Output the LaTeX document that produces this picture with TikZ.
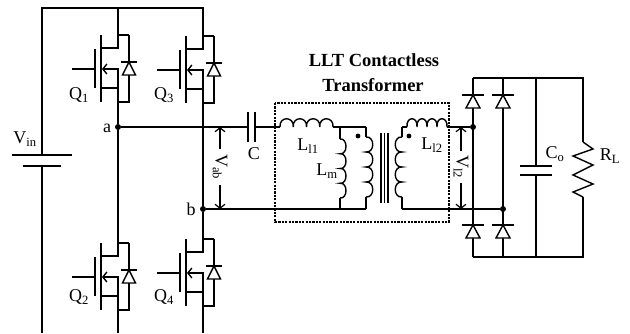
\documentclass[tikz,border=0pt]{standalone}
\usepackage{fontspec}
\setmainfont{Liberation Serif}
\usetikzlibrary{arrows.meta}
\tikzset{
  x=1pt,y=-1pt,
  wire/.style={line width=1.4pt,line join=miter},
  thick wire/.style={line width=1.7pt},
  junction/.style={circle,fill=black,inner sep=0pt,minimum size=6pt},
  lbl/.style={inner sep=0pt,font=\fontsize{18}{20}\selectfont},
  title/.style={inner sep=0pt,font=\fontsize{18.5}{20}\selectfont\bfseries},
  dimarrow/.style={line width=1.2pt,-{Straight Barb[length=4pt,width=10pt]}},
  pics/diode/.style={code={
    \draw[wire] (-11,0) -- (11,0);
    \draw[wire,fill=white] (0,0) -- (-7,13) -- (7,13) -- cycle;
  }},
  pics/smalldiode/.style={code={
    \draw[wire] (-8,0) -- (8,0);
    \draw[wire,fill=white] (0,0) -- (-6.5,13) -- (6.5,13) -- cycle;
  }},
  pics/mos/.style={code={
    \coordinate (-d) at (0,0);
    \coordinate (-s) at (0,67);
    \draw[wire] (11,0) -- (0,0) -- (0,13) -- (-17,13);
    \draw[wire] (-17,0) -- (-17,67);
    \draw[thick wire] (-23,14) -- (-23,53);
    \draw[wire] (-46,34) -- (-23,34);
    \draw[wire,-{Straight Barb[length=4pt,width=10pt]}] (0,53) -- (0,34) -- (-16,34);
    \draw[wire] (-17,53) -- (0,53) -- (0,67) -- (11,67) -- (11,0);
    \pic at (11,27) {smalldiode};
  }},
}
\newcommand{\hcoil}[3]{% x0 y x1, four bumps up
  \draw[wire] (#1,#2)
  \foreach \i in {0,1,2,3}{ .. controls ({#1+(#3-#1)*\i/4-1},#2-11) and ({#1+(#3-#1)*(\i+1)/4+1},#2-11) .. ({#1+(#3-#1)*(\i+1)/4},#2) };
}
\newcommand{\vcoil}[4]{% x y0 y1 bulge, four bumps
  \draw[wire] (#1,#2)
  \foreach \i in {0,1,2,3}{ .. controls ({#1+#4},{#2+(#3-#2)*\i/4-1}) and ({#1+#4},{#2+(#3-#2)*(\i+1)/4+1}) .. (#1,{#2+(#3-#2)*(\i+1)/4}) };
}
\begin{document}
\begin{tikzpicture}
\useasboundingbox (0,0) rectangle (630,333);
% MOSFETs
\pic (q1) at (118,35) {mos};
\pic (q3) at (203,36) {mos};
\pic (q2) at (118,243) {mos};
\pic (q4) at (203,239) {mos};
% named points
\coordinate (tl) at (42,8);
\coordinate (t1) at (118,8);
\coordinate (t3) at (203,8);
\coordinate (bl) at (42,333);
\coordinate (b2) at (118,333);
\coordinate (b4) at (203,333);
\coordinate (bat1) at (42,155);
\coordinate (bat2) at (42,166);
\node[junction] (a) at (118,127) {};
\node[junction] (b) at (203,209) {};
\coordinate (c1) at (248,127);
\coordinate (c2) at (255,127);
\coordinate (l1a) at (280,127);
\coordinate (l1b) at (333,127);
\coordinate (pt) at (366,127);
\coordinate (mt) at (340,127);
\coordinate (mb) at (340,209);
\coordinate (pb) at (366,209);
\coordinate (st) at (402,127);
\coordinate (sb) at (402,209);
\coordinate (l2a) at (407,127);
\coordinate (l2b) at (447,127);
\node[junction] (r1) at (473,127) {};
\node[junction] (r2) at (503,209) {};
\coordinate (rtl) at (473,78);
\coordinate (rtr) at (503,78);
\coordinate (rtc) at (536,78);
\coordinate (rtR) at (583,78);
\coordinate (rbl) at (473,257);
\coordinate (rbr) at (503,257);
\coordinate (rbc) at (536,257);
\coordinate (rbR) at (583,257);
% left rails
\draw[wire] (bat1) -- (tl) -- (t3) -- (q3-d);
\draw[wire] (t1) -- (q1-d);
\draw[wire] (bat2) -- (bl);
\draw[thick wire] (12,155) -- (72,155);
\draw[thick wire] (23,166) -- (61,166);
\draw[wire] (q1-s) -- (a) -- (q2-d);
\draw[wire] (q3-s) -- (b) -- (q4-d);
\draw[wire] (q2-s) -- (b2);
\draw[wire] (q4-s) -- (b4);
% series branch
\draw[wire] (a) -- (c1);
\draw[thick wire] (248,112) -- (248,142) (255,112) -- (255,142);
\draw[wire] (c2) -- (l1a);
\hcoil{280}{127}{333}
\draw[wire] (l1b) -- (pt);
\draw[wire] (mt) -- (340,139);
\vcoil{340}{139}{198}{8}
\draw[wire] (340,198) -- (mb);
\draw[wire] (pt) -- (366,137);
\vcoil{366}{137}{197}{9}
\draw[wire] (366,197) -- (pb);
\draw[wire] (b) -- (pb);
\draw[wire] (381,133) -- (381,203) (384.5,133) -- (384.5,203) (388,133) -- (388,203);
\draw[wire] (st) -- (402,137);
\vcoil{402}{137}{197}{-9}
\draw[wire] (402,197) -- (sb);
\draw[wire] (st) -- (l2a);
\hcoil{407}{127}{447}
\draw[wire] (l2b) -- (r1);
\draw[wire] (sb) -- (r2);
\fill (358,136) circle (2.4pt);
\fill (409,136) circle (2.4pt);
\draw[line width=1.1pt,dash pattern=on 2.2pt off 1.2pt] (275,103) rectangle (449,222);
% voltage arrows
\node[lbl,rotate=-90] (vab) at (220,167) {V\textsubscript{ab}};
\draw[dimarrow] (220,149) -- (220,127);
\draw[dimarrow] (220,185) -- (220,209);
\node[lbl,rotate=-90] (vl2) at (461,167) {V\textsubscript{l2}};
\draw[dimarrow] (461,151) -- (461,127);
\draw[dimarrow] (461,183) -- (461,209);
% rectifier
\draw[wire] (rtl) -- (rtR) -- (583,142);
\draw[wire] (rbl) -- (rbR) -- (583,197);
\draw[wire] (rtl) -- (rbl);
\draw[wire] (rtr) -- (rbr);
\pic at (473,95) {diode};
\pic at (503,95) {diode};
\pic at (473,225) {diode};
\pic at (503,225) {diode};
% output capacitor
\draw[wire] (rtc) -- (536,166);
\draw[wire] (536,175) -- (rbc);
\draw[thick wire] (520,166) -- (552,166) (520,175) -- (552,175);
% load
\draw[wire] (583,142) -- (593,149) -- (573,156) -- (593,165) -- (573,175) -- (593,184) -- (573,192) -- (583,197);
% labels
\node[lbl] (vin) at (25,139) {V\textsubscript{in}};
\node[lbl] (lq1) at (79,95) {Q\textsubscript{1}};
\node[lbl] (lq3) at (164,95) {Q\textsubscript{3}};
\node[lbl] (lq2) at (79,297) {Q\textsubscript{2}};
\node[lbl] (lq4) at (164,297) {Q\textsubscript{4}};
\node[lbl] (la) at (107,128) {a};
\node[lbl] (lb) at (191,209) {b};
\node[lbl] (lc) at (254,154) {C};
\node[lbl] (ll1) at (308,146) {L\textsubscript{l1}};
\node[lbl] (lm) at (327,171) {L\textsubscript{m}};
\node[lbl] (ll2) at (432,145) {L\textsubscript{l2}};
\node[lbl] (lco) at (555,154) {C\textsubscript{o}};
\node[lbl] (lrl) at (610,156) {R\textsubscript{L}};
\node[title] (t1l) at (374,60) {LLT Contactless};
\node[title] (t2l) at (373,85) {Transformer};
\end{tikzpicture}
\end{document}
